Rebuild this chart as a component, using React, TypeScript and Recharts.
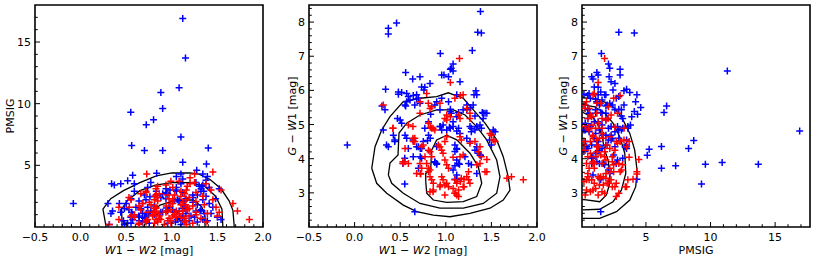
import React from 'react';
import { ComposedChart, Scatter, Line, XAxis, YAxis, ReferenceArea } from 'recharts';

const FONT = '"DejaVu Sans", sans-serif';

// Each source: [W1 - W2, PMSIG, G - W1]; PMSIG null where it is missing
const blueSources: [number, number | null, number][] = [
  [1.12, 16.9, 4.81], [1.15, 13.7, 3.84], [1.08, 11.3, 6.57], [0.88, 10.9, 3.89],
  [0.9, 9.6, 3.84], [0.55, 9.3, 3.26], [0.8, 8.7, 4.53], [0.72, 8.3, 4.3],
  [1.1, 7.3, 3.79], [0.56, 6.6, 5.54], [1.4, 6.4, 5.35], [0.7, 6.2, 3.72],
  [0.9, 6.2, 4.36], [1.12, 5.25, 4.28], [1.38, 5.1, 4.1], [-0.08, 1.9, 4.4],
  [1.35, 2.9, 7.7], [1.39, 4.1, 7.68], [0.94, 1.55, 7.08],
  [1.38, null, 8.31], [0.37, null, 7.82], [0.37, null, 7.65], [0.46, null, 7.97], [1.29, null, 7.17],
  [1.08, 2.1, 6.77], [1.06, 2.2, 6.65], [1.05, 3.0, 6.62], [1.03, 2.15, 6.4],
  [0.955, 1.3, 6.45], [0.98, 3.0, 6.45], [1.156, 2.3, 6.25], [0.637, 0.9, 6.33],
  [0.56, 1.2, 6.52], [0.76, 2.45, 6.01], [0.77, 1.3, 6.09], [0.717, 0.8, 6.4],
  [0.735, 1.0, 6.1], [0.827, 2.6, 6.2], [0.48, 1.5, 5.95], [0.34, 3.5, 6.03],
  [0.516, 3.75, 5.94], [0.643, 0.5, 5.85], [0.68, 1.1, 5.75], [0.48, 0.2, 5.89],
  [0.571, 0.6, 5.91], [0.589, 2.9, 5.82], [0.607, 1.6, 5.72], [0.571, 4.2, 5.67],
  [0.553, 0.3, 5.57], [0.68, 1.9, 5.87], [0.7, 0.7, 5.77], [0.717, 2.2, 5.62],
  [0.66, 1.4, 5.57], [0.3, 1.9, 5.54], [0.333, 1.1, 5.43], [0.936, 3.1, 5.43],
  [0.955, 2.7, 5.77], [1.03, 1.2, 5.67], [1.05, 4.1, 5.38], [1.12, 1.8, 5.87],
  [1.33, 3.3, 5.99], [1.31, 1.3, 5.87], [1.32, 3.1, 5.25], [1.23, 2.0, 5.57],
  [1.19, 0.5, 5.43], [1.41, 3.2, 5.18], [1.43, 1.1, 5.33], [1.05, 2.9, 5.45],
  [1.06, 0.6, 5.33], [1.14, 1.5, 5.35], [0.88, 2.4, 5.57], [0.9, 1.2, 5.67],
  [0.47, 0.5, 5.18], [0.5, 1.9, 5.13], [0.516, 0.3, 5.04], [0.77, 3.6, 4.89],
  [0.81, 1.0, 5.08], [0.936, 2.3, 4.94], [0.97, 1.6, 4.99], [1.04, 0.4, 4.92],
  [0.315, 0.2, 4.84], [0.35, 1.3, 4.4], [0.37, 3.4, 4.35], [0.44, 1.2, 4.5],
  [0.553, 2.3, 4.69], [0.571, 1.0, 4.6], [0.589, 3.5, 4.3], [0.643, 0.8, 4.06],
  [0.7, 2.6, 4.35], [0.735, 1.6, 4.3], [0.753, 0.3, 4.5], [0.88, 1.2, 3.91],
  [0.9, 2.7, 3.86], [1.01, 1.4, 4.84], [1.05, 3.2, 4.89], [1.08, 0.7, 4.94],
  [1.14, 2.1, 4.89], [1.156, 1.1, 4.74], [1.1, 3.5, 4.4], [1.12, 0.5, 4.3],
  [1.12, 2.8, 3.96], [1.14, 1.7, 3.86], [1.1, 4.3, 3.4], [1.12, 0.9, 3.52],
  [1.23, 2.4, 4.6], [1.265, 1.3, 4.5], [1.32, 2.9, 4.84], [1.34, 0.6, 4.94],
  [1.375, 3.8, 4.99], [1.41, 1.9, 5.33], [1.3, 3.3, 5.57], [1.32, 1.4, 4.25],
  [1.25, 0.8, 3.86], [1.34, 2.2, 3.57], [1.12, 1.5, 3.38], [0.66, 1.5, 2.45],
  [0.425, 1.9, 4.69], [0.44, 3.5, 4.55], [0.55, 0.8, 4.01], [0.53, 1.4, 3.86],
  [1.265, 3.6, 4.94], [1.28, 0.4, 4.89], [1.28, 2.6, 4.79], [1.34, 3.4, 4.35],
  [1.36, 1.1, 4.16], [1.375, 2.5, 4.11], [1.28, 1.8, 3.82], [1.08, 2.1, 3.67],
  [1.1, 0.2, 4.21], [0.68, 0.4, 4.35], [0.64, 2.1, 4.55], [0.72, 1.1, 4.06],
  [0.735, 3.2, 4.01], [1.21, 0.9, 4.06], [0.94, 2.8, 4.94], [0.955, 0.3, 4.84],
  [0.81, 1.7, 4.69], [0.83, 2.9, 4.6], [1.08, 1.3, 5.08], [1.12, 3.9, 5.23],
  [1.23, 2.6, 5.43], [1.34, 4.3, 5.87], [1.45, 1.6, 5.33], [1.48, 2.3, 4.55],
  [1.5, 0.8, 4.4], [1.52, 3.1, 4.84], [1.39, 0.5, 4.89], [1.54, 0.6, 4.79],
  [0.834, 4.35, 5.3], [1.273, 4.6, 5.5],
];

const redSources: [number, number | null, number][] = [
  [1.15, 1.8, 6.93], [0.315, 0.2, 5.57], [0.79, 1.0, 5.91], [0.717, 0.4, 5.67],
  [0.808, 1.5, 5.62], [0.845, 2.1, 5.52], [0.827, 0.6, 5.47], [0.936, 1.2, 5.62],
  [1.1, 2.5, 5.77], [1.19, 0.9, 5.87], [1.05, 1.3, 6.23], [0.717, 2.8, 5.33],
  [0.99, 0.5, 5.18], [1.01, 1.9, 5.13], [1.16, 3.0, 5.85], [1.265, 2.07, 5.18],
  [0.42, 1.6, 4.89], [0.59, 0.8, 4.99], [0.64, 0.3, 4.94], [0.83, 2.6, 4.92],
  [0.86, 1.1, 4.89], [1.14, 0.7, 5.28], [0.553, 2.2, 4.3], [0.553, 0.9, 3.91],
  [0.534, 1.6, 3.86], [0.643, 0.2, 4.5], [0.66, 1.4, 4.6], [0.717, 2.9, 3.86],
  [0.735, 0.6, 3.72], [0.772, 1.8, 4.06], [0.81, 0.3, 4.25], [0.827, 1.2, 4.2],
  [0.845, 2.4, 4.06], [0.79, 0.9, 3.86], [0.827, 1.5, 3.47], [0.845, 0.4, 3.38],
  [0.863, 2.7, 3.28], [0.827, 1.6, 3.03], [0.735, 1.2, 4.35], [0.753, 2.0, 4.4],
  [0.918, 0.2, 4.4], [0.936, 1.3, 4.35], [0.955, 2.6, 4.25], [0.97, 0.7, 4.16],
  [0.99, 1.9, 3.96], [1.01, 3.2, 3.82], [1.03, 1.0, 3.72], [0.955, 0.5, 3.47],
  [0.97, 2.3, 3.38], [0.99, 1.4, 3.23], [1.1, 0.8, 3.38], [1.12, 2.0, 3.28],
  [1.08, 1.1, 3.13], [1.1, 2.9, 2.99], [1.14, 0.4, 3.08], [1.23, 1.7, 3.47],
  [1.25, 3.6, 3.38], [1.265, 1.0, 3.28], [1.19, 2.4, 3.18], [0.99, 3.7, 4.5],
  [1.01, 0.9, 4.64], [1.156, 2.2, 4.64], [1.17, 3.3, 4.55], [1.156, 0.5, 4.06],
  [1.19, 1.5, 4.11], [1.265, 2.8, 4.45], [1.32, 0.7, 4.5], [1.356, 1.8, 4.2],
  [1.39, 1.1, 4.06], [1.45, 4.45, 3.98], [1.34, 2.5, 3.82], [1.375, 0.4, 3.86],
  [1.43, 3.0, 3.62], [1.485, 1.6, 4.74], [1.52, 1.2, 4.55], [1.54, 3.0, 4.5],
  [1.67, 1.9, 3.43], [1.72, 1.3, 3.47], [1.85, 0.6, 3.38], [0.81, 2.2, 3.72],
  [0.827, 3.1, 3.67], [0.68, 1.9, 3.57], [0.863, 0.9, 3.08], [0.936, 3.4, 3.18],
  [1.03, 2.6, 3.18], [0.99, 0.3, 2.94], [1.12, 1.3, 2.94], [1.14, 2.7, 2.89],
  [0.81, 1.3, 5.04], [0.845, 3.3, 4.89], [0.88, 0.6, 4.84], [1.01, 2.3, 5.28],
  [1.05, 0.8, 5.23], [1.156, 1.6, 5.18], [1.23, 0.3, 5.47], [1.265, 1.2, 5.33],
  [1.45, 2.2, 3.62], [1.375, 3.5, 4.35], [1.5, 0.9, 4.69], [1.08, 3.7, 4.04],
  [1.1, 1.8, 2.99], [0.86, 0.7, 3.03], [1.16, 0.2, 3.33], [1.17, 1.4, 3.43],
  [1.01, 2.1, 3.28], [0.94, 1.7, 3.23], [0.72, 0.5, 3.57], [0.81, 2.5, 3.62],
  [0.59, 1.0, 3.86], [0.53, 2.4, 3.91], [0.42, 0.6, 4.89], [0.64, 1.7, 4.6],
  [0.66, 2.7, 4.5], [1.25, 4.3, 3.62], [0.725, 4.3, 3.55], [1.2, 3.5, 3.18],
  [1.2, 4.0, 3.4],
];

// density contours, [x, y]
const contoursW12Pmsig: [number, number][][] = [
  [[0.28, 0], [0.245, 1.45], [0.33, 2.3], [0.47, 2.95], [0.65, 3.6], [0.83, 4.15], [1.0, 4.38], [1.2, 4.38],
   [1.3, 4.28], [1.42, 3.85], [1.54, 3.1], [1.63, 2.1], [1.67, 1.35], [1.685, 0]],
  [[0.455, 0], [0.45, 1.45], [0.52, 2.2], [0.65, 2.95], [0.82, 3.4], [1.0, 3.6], [1.2, 3.6], [1.36, 3.3],
   [1.48, 2.5], [1.55, 1.45], [1.56, 0]],
  [[0.69, 0], [0.761, 1.11], [0.871, 1.78], [1.054, 2.19], [1.236, 2.19], [1.328, 1.65], [1.364, 0.84], [1.364, 0]],
];

const contoursW12Gw1: [number, number][][] = [
  [[0.188, 3.72], [0.224, 4.35], [0.297, 4.84], [0.388, 5.23], [0.534, 5.67], [0.717, 5.77], [0.9, 5.82],
   [1.027, 5.93], [1.192, 5.77], [1.302, 5.43], [1.43, 5.04], [1.558, 4.55], [1.63, 4.06], [1.685, 3.47],
   [1.704, 3.08], [1.63, 2.79], [1.485, 2.55], [1.265, 2.4], [1.046, 2.3], [0.863, 2.35], [0.681, 2.45],
   [0.534, 2.64], [0.352, 2.99], [0.242, 3.28], [0.188, 3.72]],
  [[0.37, 3.52], [0.388, 3.87], [0.476, 4.11], [0.487, 4.75], [0.571, 5.04], [0.717, 5.28], [0.9, 5.43],
   [1.082, 5.43], [1.211, 5.28], [1.339, 4.94], [1.448, 4.55], [1.558, 3.96], [1.594, 3.47], [1.558, 2.99],
   [1.411, 2.69], [1.192, 2.55], [0.936, 2.55], [0.717, 2.69], [0.534, 2.99], [0.407, 3.28], [0.37, 3.52]],
  [[0.78, 3.33], [0.78, 3.57], [0.834, 3.67], [0.845, 4.25], [0.9, 4.55], [1.01, 4.69], [1.12, 4.55],
   [1.265, 4.16], [1.356, 3.77], [1.394, 3.28], [1.339, 2.89], [1.192, 2.74], [1.01, 2.72], [0.863, 2.79],
   [0.791, 2.99], [0.78, 3.33]],
];

const contoursPmsigGw1: [number, number][][] = [
  [[0.1, 2.25], [1.42, 2.25], [2.72, 2.45], [3.75, 2.79], [4.21, 3.18], [4.31, 3.67], [4.13, 4.25],
   [3.75, 4.74], [3.1, 5.23], [2.33, 5.57], [1.42, 5.72], [0.65, 5.77], [0.1, 5.78]],
  [[0.1, 2.5], [1.42, 2.52], [2.45, 2.74], [3.1, 3.08], [3.44, 3.57], [3.36, 4.16], [2.97, 4.64],
   [2.45, 5.04], [1.81, 5.33], [1.03, 5.52], [0.1, 5.58]],
  [[0.1, 2.81], [1.42, 2.74], [1.94, 2.94], [2.2, 3.28], [2.2, 3.57], [2.07, 3.96], [1.81, 4.25],
   [1.65, 4.55], [1.42, 4.9], [0.96, 5.19], [0.1, 5.36]],
];

// ticks (all tick positions) and the labelled ones
const w12Ticks = [-0.5, -0.4, -0.3, -0.2, -0.1, 0, 0.1, 0.2, 0.3, 0.4, 0.5, 0.6, 0.7, 0.8, 0.9,
  1, 1.1, 1.2, 1.3, 1.4, 1.5, 1.6, 1.7, 1.8, 1.9, 2];
const w12Labels = [-0.5, 0, 0.5, 1, 1.5, 2];
const pmsigTicks = [1, 2, 3, 4, 5, 6, 7, 8, 9, 10, 11, 12, 13, 14, 15, 16, 17];
const pmsigLabels = [5, 10, 15];
const gw1Ticks = [2.2, 2.4, 2.6, 2.8, 3, 3.2, 3.4, 3.6, 3.8, 4, 4.2, 4.4, 4.6, 4.8, 5, 5.2, 5.4,
  5.6, 5.8, 6, 6.2, 6.4, 6.6, 6.8, 7, 7.2, 7.4, 7.6, 7.8, 8, 8.2, 8.4];
const gw1Labels = [3, 4, 5, 6, 7, 8];

const fmtW12 = (v: number) => (v < 0 ? '\u2212' : '') + Math.abs(v).toFixed(1);
const fmtInt = (v: number) => String(v);

const pick = (rows: [number, number | null, number][], xi: number, yi: number) =>
  rows
    .filter((r) => r[xi] != null && r[yi] != null)
    .map((r) => ({ x: r[xi] as number, y: r[yi] as number }));

const isMajor = (v: number, majors: number[]) => majors.some((m) => Math.abs(m - v) < 1e-6);

const makeXTick = (majors: number[], fmt: (v: number) => string) => (props: any) => {
  const { x, y, payload } = props;
  const major = isMajor(payload.value, majors);
  return (
    <g>
      <line x1={x} x2={x} y1={y} y2={y - (major ? 5 : 2.8)} stroke="#000" strokeWidth={1} />
      {major && (
        <text x={x} y={y + 14} textAnchor="middle" fontSize={11} fontFamily={FONT} fill="#000">
          {fmt(payload.value)}
        </text>
      )}
    </g>
  );
};

const makeYTick = (majors: number[], fmt: (v: number) => string) => (props: any) => {
  const { x, y, payload } = props;
  const major = isMajor(payload.value, majors);
  return (
    <g>
      <line x1={x} x2={x + (major ? 5 : 2.8)} y1={y} y2={y} stroke="#000" strokeWidth={1} />
      {major && (
        <text x={x - 4} y={y + 4} textAnchor="end" fontSize={11} fontFamily={FONT} fill="#000">
          {fmt(payload.value)}
        </text>
      )}
    </g>
  );
};

const XTitle = (props: any) => {
  const vb = props.viewBox || {};
  return (
    <text x={vb.x + vb.width / 2} y={vb.y + 27} textAnchor="middle" fontSize={11} fontFamily={FONT} fill="#000">
      {props.parts}
    </text>
  );
};

// y title sits at a fixed x inside its chart, centred on the plot height
const YTitle = (props: any) => {
  const vb = props.viewBox || {};
  const cx = props.xPos;
  const cy = vb.y + vb.height / 2;
  return (
    <text x={cx} y={cy} transform={`rotate(-90 ${cx} ${cy})`} textAnchor="middle" fontSize={11}
      fontFamily={FONT} fill="#000">
      {props.parts}
    </text>
  );
};

const w12Title = (
  <>
    <tspan fontStyle="italic">W</tspan>
    <tspan>1 − </tspan>
    <tspan fontStyle="italic">W</tspan>
    <tspan>2 [mag]</tspan>
  </>
);
const gw1Title = (
  <>
    <tspan fontStyle="italic">G</tspan>
    <tspan> − </tspan>
    <tspan fontStyle="italic">W</tspan>
    <tspan>1 [mag]</tspan>
  </>
);

const Plus = (color: string) => (props: any) => {
  const { cx, cy } = props;
  if (cx == null || cy == null) return <g />;
  return (
    <path d={`M${cx - 3.5},${cy}h7M${cx},${cy - 3.5}v7`} stroke={color} strokeWidth={1.5} fill="none" />
  );
};

interface PanelProps {
  left: number;
  width: number;
  marginLeft: number;
  marginRight: number;
  xDomain: [number, number];
  yDomain: [number, number];
  xTicks: number[];
  xLabels: number[];
  yTicks: number[];
  yLabels: number[];
  fmtX: (v: number) => string;
  xTitle: React.ReactNode;
  yTitle: React.ReactNode;
  yTitleX: number;
  blue: { x: number; y: number }[];
  red: { x: number; y: number }[];
  contours: [number, number][][];
}

const Panel: React.FC<PanelProps> = (p) => (
  <div style={{ position: 'absolute', left: p.left, top: 0 }}>
    <ComposedChart width={p.width} height={262}
      margin={{ top: 5, right: p.marginRight, bottom: 0, left: 0 }}>
      <XAxis type="number" dataKey="x" domain={p.xDomain} allowDataOverflow ticks={p.xTicks} interval={0}
        height={35} tickSize={0} tickMargin={0} tickLine={false} axisLine={false}
        tick={makeXTick(p.xLabels, p.fmtX)} label={<XTitle parts={p.xTitle} />} />
      <YAxis type="number" dataKey="y" domain={p.yDomain} allowDataOverflow ticks={p.yTicks} interval={0}
        width={p.marginLeft} tickSize={0} tickMargin={0} tickLine={false} axisLine={false}
        tick={makeYTick(p.yLabels, fmtInt)} label={<YTitle parts={p.yTitle} xPos={p.yTitleX} />} />
      <Scatter data={p.blue} shape={Plus('#0000ff')} isAnimationActive={false} />
      <Scatter data={p.red} shape={Plus('#ff0000')} isAnimationActive={false} />
      {p.contours.map((c, i) => (
        <Line key={`c-${i}`} data={c.map(([x, y]) => ({ x, y }))} dataKey="y" type="linear" stroke="#000"
          strokeWidth={1.3} dot={false} activeDot={false} isAnimationActive={false} />
      ))}
      <ReferenceArea x1={p.xDomain[0]} x2={p.xDomain[1]} y1={p.yDomain[0]} y2={p.yDomain[1]}
        fill="none" fillOpacity={0} stroke="#000" strokeWidth={1.6} ifOverflow="visible" />
    </ComposedChart>
  </div>
);

const App: React.FC = () => (
  <div style={{ position: 'absolute', left: 0, top: 0, width: 814, height: 262, background: '#fff' }}>
    <Panel left={0} width={275} marginLeft={35} marginRight={12}
      xDomain={[-0.5, 2]} yDomain={[0, 18]} xTicks={w12Ticks} xLabels={w12Labels}
      yTicks={pmsigTicks} yLabels={pmsigLabels} fmtX={fmtW12}
      xTitle={w12Title} yTitle="PMSIG" yTitleX={14}
      blue={pick(blueSources, 0, 1)} red={pick(redSources, 0, 1)} contours={contoursW12Pmsig} />
    <Panel left={275} width={275} marginLeft={34} marginRight={13}
      xDomain={[-0.5, 2]} yDomain={[2, 8.5]} xTicks={w12Ticks} xLabels={w12Labels}
      yTicks={gw1Ticks} yLabels={gw1Labels} fmtX={fmtW12}
      xTitle={w12Title} yTitle={gw1Title} yTitleX={21}
      blue={pick(blueSources, 0, 2)} red={pick(redSources, 0, 2)} contours={contoursW12Gw1} />
    <Panel left={550} width={264} marginLeft={32} marginRight={4}
      xDomain={[0.05, 17.7]} yDomain={[2, 8.5]} xTicks={pmsigTicks} xLabels={pmsigLabels}
      yTicks={gw1Ticks} yLabels={gw1Labels} fmtX={fmtInt}
      xTitle="PMSIG" yTitle={gw1Title} yTitleX={17}
      blue={pick(blueSources, 1, 2)} red={pick(redSources, 1, 2)} contours={contoursPmsigGw1} />
  </div>
);

export default App;
